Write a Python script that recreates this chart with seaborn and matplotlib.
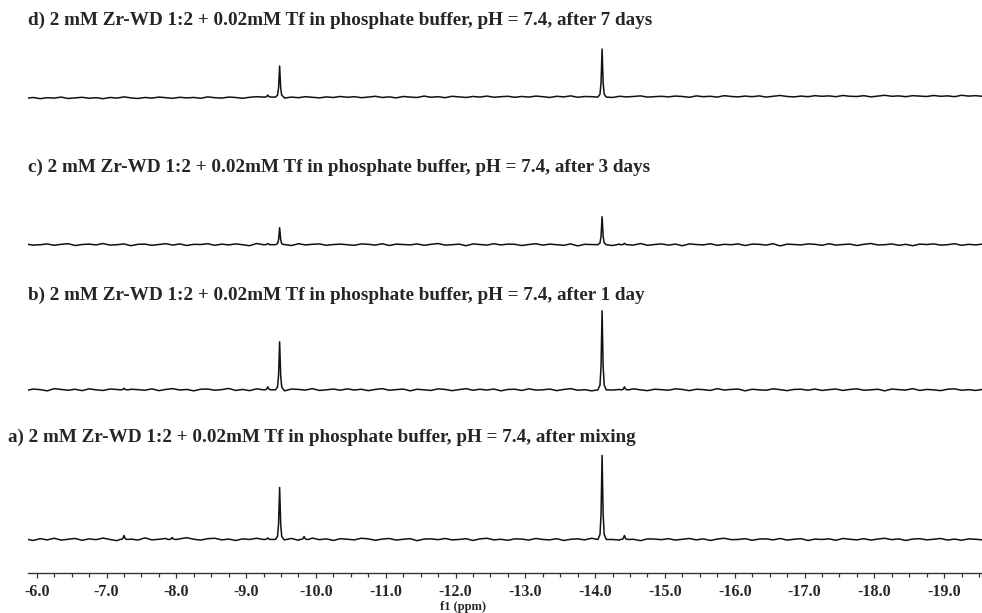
import numpy as np
import pandas as pd
import matplotlib
matplotlib.use("Agg")
import matplotlib.pyplot as plt
from matplotlib.ticker import MultipleLocator, FormatStrFormatter
import seaborn as sns

# sample grid (ppm) for the baseline readings, step 0.1
ppm_grid = np.round(np.linspace(-5.85, -19.55, 138), 3)

# baseline wiggle (1 unit = 2 px in the reference)
noise_a = [0.2, -0.5, 0.4, -0.2, 0.6, -0.3, 0.1, 0.5, -0.4, 0.3, -0.1, 0.7, 0.0, -0.6, 0.4, 0.2, -0.3, 0.8, -0.2, 0.1, 0.5, -0.4, 0.3,
           0.9, 0.1, -0.3, 0.4, 0.6, -0.2, 0.2, -0.5, 0.3, 0.0, 0.6, -0.3, 0.4, 0.1, -0.2, 0.5, -0.4, 0.2, 0.7, -0.1, 0.3, -0.5, 0.4,
           0.1, -0.2, 0.6, 0.3, -0.4, 0.2, 0.5, -0.3, 0.1, 0.4, -0.6, 0.2, 0.3, -0.1, 0.5, -0.2, 0.0, 0.4, -0.5, 0.3, 0.6, -0.2, 0.1,
           -0.4, 0.3, 0.2, -0.3, 0.5, 0.0, -0.2, 0.4, -0.5, 0.1, 0.3, -0.2, 0.6, -0.4, 0.2, 0.0, -0.3, 0.5, 0.1, -0.6, 0.3, 0.2, -0.1,
           0.4, -0.3, 0.1, 0.5, -0.2, 0.3, -0.5, 0.2, 0.6, -0.1, 0.0, 0.4, -0.4, 0.2, 0.3, -0.2, 0.5, -0.3, 0.1, 0.4, -0.5, 0.2, 0.0,
           0.3, -0.4, 0.5, 0.1, -0.2, 0.4, -0.3, 0.2, 0.6, -0.1, 0.3, -0.5, 0.2, 0.4, -0.2, 0.1, 0.5, -0.3, 0.2, -0.4, 0.3, 0.1, -0.2]
noise_b = [-0.3, 0.4, 0.1, -0.5, 0.6, 0.2, -0.2, 0.3, -0.4, 0.5, 0.0, -0.3, 0.4, 0.2, -0.6, 0.3, 0.1, -0.2, 0.5, -0.4, 0.2, 0.6, -0.1,
           0.2, -0.5, 0.3, 0.4, -0.2, 0.1, 0.7, -0.3, 0.2, -0.4, 0.5, 0.1, -0.2, 0.3, -0.5, 0.4, 0.2, -0.1, 0.6, -0.3, 0.0, 0.4, -0.2,
           0.5, -0.1, 0.3, -0.4, 0.2, 0.6, -0.2, 0.1, 0.4, -0.5, 0.3, 0.0, -0.3, 0.5, 0.2, -0.4, 0.1, 0.6, -0.2, 0.3, -0.1, 0.4, -0.5,
           0.2, 0.3, -0.3, 0.5, -0.1, 0.0, 0.4, -0.4, 0.2, 0.6, -0.2, 0.1, -0.5, 0.3, 0.4, -0.1, 0.2, -0.3, 0.5, 0.0, -0.4, 0.3, 0.1,
           -0.2, 0.5, 0.2, -0.4, 0.3, 0.1, -0.3, 0.6, -0.1, 0.2, 0.4, -0.5, 0.3, 0.0, -0.2, 0.5, 0.1, -0.4, 0.2, 0.3, -0.2, 0.4, -0.3,
           0.1, 0.4, -0.3, 0.2, 0.5, -0.2, 0.0, 0.3, -0.5, 0.4, 0.1, -0.1, 0.6, -0.3, 0.2, 0.0, -0.4, 0.3, 0.5, -0.2, 0.1, -0.3, 0.2]
noise_c = [0.3, -0.2, 0.0, 0.4, -0.3, 0.2, 0.5, -0.4, 0.1, 0.3, -0.1, 0.6, -0.2, 0.0, 0.4, -0.5, 0.2, 0.3, -0.3, 0.1, 0.5, -0.2, 0.4,
           -0.4, 0.2, 0.1, 0.5, -0.3, 0.3, -0.1, 0.4, 0.0, -0.5, 0.6, 0.2, -0.2, 0.3, 0.1, -0.4, 0.5, -0.1, 0.2, 0.4, -0.3, 0.1, 0.3,
           0.0, -0.3, 0.4, 0.2, -0.2, 0.5, -0.4, 0.3, 0.1, -0.1, 0.4, -0.3, 0.2, 0.6, -0.2, 0.0, 0.3, -0.5, 0.4, 0.1, -0.2, 0.5, -0.1,
           0.3, 0.2, -0.4, 0.1, 0.5, -0.2, 0.3, 0.0, -0.3, 0.4, -0.6, 0.2, 0.1, 0.5, -0.1, -0.4, 0.3, 0.2, -0.2, 0.6, -0.3, 0.1, 0.4,
           -0.2, 0.3, -0.5, 0.4, 0.1, -0.1, 0.5, -0.3, 0.2, 0.0, 0.4, -0.4, 0.3, 0.2, -0.2, 0.5, -0.6, 0.3, 0.1, -0.1, 0.4, 0.2, -0.3,
           0.5, -0.2, 0.1, 0.3, -0.4, 0.2, 0.6, -0.1, 0.0, 0.4, -0.3, 0.2, -0.5, 0.3, 0.1, 0.4, -0.2, 0.0, 0.5, -0.3, 0.2, -0.1, 0.3]
noise_d = [-0.6, -0.2, -0.8, -0.3, -0.5, 0.0, -0.7, -0.4, -0.1, -0.6, -0.3, -0.8, -0.2, -0.5, 0.1, -0.4, -0.7, -0.2, -0.5, 0.0, -0.3, -0.6, -0.1,
           -0.4, -0.2, -0.6, 0.1, -0.3, -0.5, 0.0, -0.2, -0.6, -0.1, 0.2, -0.4, -0.2, 0.1, -0.5, 0.0, -0.3, 0.2, -0.1, -0.4, 0.1, -0.2, 0.3,
           -0.1, 0.2, -0.3, 0.0, 0.4, -0.2, 0.1, -0.4, 0.3, 0.0, -0.2, 0.5, -0.1, 0.2, -0.3, 0.4, 0.1, -0.2, 0.3, 0.0, 0.5, -0.1, 0.2,
           0.4, -0.1, 0.3, 0.0, 0.5, 0.2, -0.2, 0.4, 0.1, 0.6, -0.1, 0.3, 0.2, 0.0, 0.5, -0.2, 0.4, 0.1, 0.3, 0.6, 0.0, 0.2, 0.4,
           0.1, 0.5, 0.3, -0.1, 0.6, 0.2, 0.4, 0.0, 0.7, 0.3, 0.1, 0.5, 0.2, 0.6, 0.0, 0.4, 0.8, 0.3, 0.1, 0.5, 0.2, 0.7, 0.4,
           0.6, 0.2, 0.8, 0.4, 0.3, 0.7, 0.1, 0.5, 0.9, 0.4, 0.6, 0.2, 0.7, 0.5, 0.3, 0.8, 0.4, 0.6, 0.2, 0.9, 0.5, 0.7, 0.4]

# peaks: (position ppm, height)
peaks_a = [(-9.48, 26.0), (-14.10, 42.0), (-14.42, 2.0), (-9.83, 1.5), (-9.31, 0.8), (-7.25, 2.0), (-7.94, 1.0)]
peaks_b = [(-9.48, 24.0), (-14.10, 39.5), (-9.31, 1.5), (-14.42, 1.5), (-7.25, 0.8)]
peaks_c = [(-9.48, 8.5), (-14.10, 14.0), (-9.31, 0.6), (-14.42, 0.7)]
peaks_d = [(-9.48, 15.5), (-14.10, 24.0), (-9.31, 1.0)]

# line shape of one peak
shape_offsets = [-0.06, -0.03, -0.015, 0.0, 0.015, 0.03, 0.06]
shape_fracs = [0.0, 0.06, 0.3, 1.0, 0.3, 0.06, 0.0]

labels = ["a) 2 mM Zr-WD 1:2 + 0.02mM Tf in phosphate buffer, pH = 7.4, after mixing",
          "b) 2 mM Zr-WD 1:2 + 0.02mM Tf in phosphate buffer, pH = 7.4, after 1 day",
          "c) 2 mM Zr-WD 1:2 + 0.02mM Tf in phosphate buffer, pH = 7.4, after 3 days",
          "d) 2 mM Zr-WD 1:2 + 0.02mM Tf in phosphate buffer, pH = 7.4, after 7 days"]
offsets = [16.5, 91.25, 163.75, 237.5]
label_y = [67.5, 138.5, 202.5, 276.0]
label_x = [8, 28, 28, 28]


def build_trace(noise, peaks, offset):
    xs, ys = [], []
    for x, n in zip(ppm_grid, noise):
        if any(abs(x - p) < 0.065 for p, h in peaks):
            continue
        xs.append(x)
        ys.append(n)
    for p, h in peaks:
        for o, f in zip(shape_offsets, shape_fracs):
            xs.append(p + o)
            ys.append(h * f)
    df = pd.DataFrame({"ppm": xs, "y": ys}).sort_values("ppm")
    df["y"] = df["y"] + offset
    return df


sns.set_style("white")
plt.rcParams["font.family"] = ["Liberation Serif", "DejaVu Serif"]
plt.rcParams["font.weight"] = "bold"
plt.rcParams["axes.unicode_minus"] = False

fig = plt.figure(figsize=(9.82, 6.13), dpi=100)
ax = fig.add_axes([28 / 982, 40.5 / 613, 954 / 982, 572.5 / 613])

traces = [(noise_a, peaks_a), (noise_b, peaks_b), (noise_c, peaks_c), (noise_d, peaks_d)]
for (noise, peaks), off in zip(traces, offsets):
    df = build_trace(noise, peaks, off)
    sns.lineplot(data=df, x="ppm", y="y", ax=ax, color="#111111", linewidth=1.1,
                 estimator=None, sort=False)

for lab, ly, lx in zip(labels, label_y, label_x):
    fig.text(lx / 982, (40.5 + ly * 2) / 613, lab, fontsize=13.8, fontweight="bold",
             va="center", ha="left")

ax.set_xlim(-5.875, -19.543)
ax.set_ylim(0, 286)
ax.set_yticks([])
ax.set_xlabel("")
ax.set_ylabel("")
for s in ["left", "right", "top"]:
    ax.spines[s].set_visible(False)
ax.spines["bottom"].set_color("#333333")
ax.spines["bottom"].set_linewidth(1.0)
ax.xaxis.set_major_locator(MultipleLocator(1.0))
ax.xaxis.set_minor_locator(MultipleLocator(0.25))
ax.xaxis.set_major_formatter(FormatStrFormatter("%.1f"))
ax.tick_params(axis="x", which="major", direction="out", length=3.5, width=0.9,
               color="#333333", pad=5, labelsize=11.5, bottom=True)
ax.tick_params(axis="x", which="minor", direction="out", length=3, width=0.9,
               color="#333333", bottom=True)
for t in ax.get_xticklabels():
    t.set_fontweight("bold")

fig.text(463 / 982, 1 - 607 / 613, "f1 (ppm)", fontsize=9, fontweight="bold",
         ha="center", va="center")

fig.savefig("out.png", dpi=100)
